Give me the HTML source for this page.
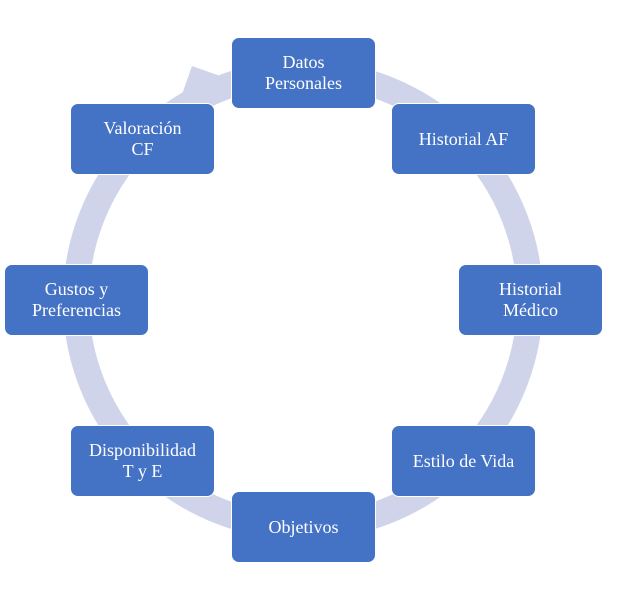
<!DOCTYPE html><html><head><style>
body{margin:0;background:#fff;width:634px;height:598px;position:relative;overflow:hidden;font-family:"Liberation Serif",serif}
.b{position:absolute;width:145px;height:72px;background:#4472C4;border:1px solid #fff;border-radius:8px;color:#fff;font-size:18px;line-height:21px;display:flex;align-items:center;justify-content:center;text-align:center;box-sizing:border-box}
</style></head><body>
<svg width="634" height="598" style="position:absolute;left:0;top:0">
<circle cx="303" cy="300" r="227" fill="none" stroke="#D0D4EA" stroke-width="26"/>
<polygon points="192,66 226,78 212,108 206,92 180,100" fill="#D0D4EA"/>
</svg>
<div class="b" style="left:231px;top:37px">Datos<br>Personales</div>
<div class="b" style="left:391px;top:103px">Historial AF</div>
<div class="b" style="left:458px;top:264px">Historial<br>Médico</div>
<div class="b" style="left:391px;top:425px">Estilo de Vida</div>
<div class="b" style="left:231px;top:491px">Objetivos</div>
<div class="b" style="left:70px;top:425px">Disponibilidad<br>T y E</div>
<div class="b" style="left:4px;top:264px">Gustos y<br>Preferencias</div>
<div class="b" style="left:70px;top:103px">Valoración<br>CF</div>
</body></html>
